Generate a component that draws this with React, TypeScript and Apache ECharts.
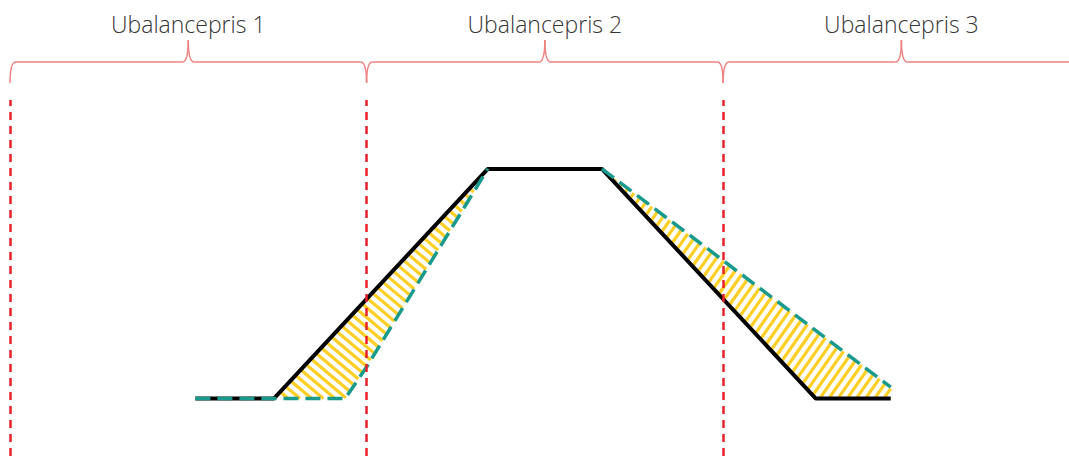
import { useEffect, useRef } from "react";
import * as echarts from "echarts";

// Period boundaries (x in "period" units) and labels
const periodStarts = [0, 1, 2];
const periodEnds = [1, 2, 3];
const periodLabels = ["Ubalancepris 1", "Ubalancepris 2", "Ubalancepris 3"];
const boundaries = [0, 1, 2];

// Solid black profile
const blackLine: number[][] = [
  [0.52, 20],
  [0.74, 20],
  [1.34, 100],
  [1.66, 100],
  [2.26, 20],
  [2.47, 20],
];
// Dashed teal profile (rising and falling parts)
const tealRise: number[][] = [
  [0.52, 20],
  [0.94, 20],
  [1.0, 31],
  [1.34, 100],
];
const tealFall: number[][] = [
  [1.66, 100],
  [2.47, 24],
];

// Hatched regions between the two profiles
const hatchPolys: number[][][] = [
  [blackLine[1], blackLine[2], ...tealRise.slice(1).reverse()],
  [blackLine[3], blackLine[4], blackLine[5], ...tealFall.slice().reverse()],
];
const hatchAngles = [40, -55];

function stripes(pts: number[][], angleDeg: number, period: number) {
  const a = (angleDeg * Math.PI) / 180;
  const d = [Math.cos(a), Math.sin(a)];
  const n = [-Math.sin(a), Math.cos(a)];
  const proj = pts.map((p) => p[0] * n[0] + p[1] * n[1]);
  const smin = Math.min(...proj);
  const smax = Math.max(...proj);
  const segs: number[][] = [];
  for (let s = Math.ceil(smin / period) * period; s <= smax; s += period) {
    const hits: number[][] = [];
    for (let i = 0; i < pts.length; i++) {
      const p = pts[i];
      const q = pts[(i + 1) % pts.length];
      const fa = proj[i] - s;
      const fb = proj[(i + 1) % pts.length] - s;
      if ((fa <= 0 && fb > 0) || (fa > 0 && fb <= 0)) {
        const t = fa / (fa - fb);
        hits.push([p[0] + (q[0] - p[0]) * t, p[1] + (q[1] - p[1]) * t]);
      }
    }
    hits.sort((u, v) => u[0] * d[0] + u[1] * d[1] - (v[0] * d[0] + v[1] * d[1]));
    for (let k = 0; k + 1 < hits.length; k += 2) {
      segs.push([hits[k][0], hits[k][1], hits[k + 1][0], hits[k + 1][1]]);
    }
  }
  return segs;
}

export default function App() {
  const ref = useRef<HTMLDivElement>(null);
  useEffect(() => {
    if (!ref.current) return;
    const chart = echarts.init(ref.current, undefined, { renderer: "svg" });
    const braceColor = "#EF8080";
    const braceY = 62;
    const braceEnd = 83;
    const braceTip = 40;
    const r = 6;
    chart.setOption({
      animation: false,
      grid: { left: 10, right: 0, top: 100, bottom: 0 },
      xAxis: { type: "value", min: 0, max: 2.97, show: false },
      yAxis: { type: "value", min: 0, max: 124, show: false },
      series: [
        {
          type: "custom",
          z: 1,
          silent: true,
          data: hatchPolys.map((_, i) => [i, 0]),
          renderItem: (params: any, api: any) => {
            const idx = params.dataIndex;
            const pts = hatchPolys[idx].map((p) => api.coord(p));
            const segs = stripes(pts, hatchAngles[idx], 7.5);
            return {
              type: "group",
              children: segs.map((s) => ({
                type: "line",
                shape: { x1: s[0], y1: s[1], x2: s[2], y2: s[3] },
                style: { stroke: "#FFCF26", lineWidth: 3.2 },
              })),
            };
          },
        },
        {
          type: "line",
          z: 2,
          data: blackLine,
          symbol: "none",
          lineStyle: { color: "#000000", width: 4 },
        },
        {
          type: "line",
          z: 3,
          data: tealRise,
          symbol: "none",
          lineStyle: { color: "#1A9A8C", width: 3.5, type: [15, 7] },
        },
        {
          type: "line",
          z: 3,
          data: tealFall,
          symbol: "none",
          lineStyle: { color: "#1A9A8C", width: 3.5, type: [15, 7] },
        },
        {
          type: "line",
          z: 4,
          data: [],
          markLine: {
            silent: true,
            symbol: "none",
            label: { show: false },
            lineStyle: { color: "#E8222A", width: 2.5, type: [8, 6] },
            data: boundaries.map((b) => ({ xAxis: b })),
          },
        },
        {
          type: "custom",
          z: 5,
          silent: true,
          clip: false,
          data: periodStarts.map((s, i) => [s, periodEnds[i]]),
          renderItem: (params: any, api: any) => {
            const x0 = api.coord([api.value(0), 0])[0];
            const x1 = api.coord([api.value(1), 0])[0];
            const xm = (x0 + x1) / 2;
            const st = { stroke: braceColor, lineWidth: 1.5, fill: "none" };
            return {
              type: "group",
              children: [
                {
                  type: "bezierCurve",
                  shape: { x1: x0, y1: braceEnd, cpx1: x0, cpy1: braceY, x2: x0 + r, y2: braceY },
                  style: st,
                },
                {
                  type: "line",
                  shape: { x1: x0 + r, y1: braceY, x2: xm - r, y2: braceY },
                  style: st,
                },
                {
                  type: "bezierCurve",
                  shape: { x1: xm - r, y1: braceY, cpx1: xm, cpy1: braceY, x2: xm, y2: braceTip },
                  style: st,
                },
                {
                  type: "bezierCurve",
                  shape: { x1: xm, y1: braceTip, cpx1: xm, cpy1: braceY, x2: xm + r, y2: braceY },
                  style: st,
                },
                {
                  type: "line",
                  shape: { x1: xm + r, y1: braceY, x2: x1 - r, y2: braceY },
                  style: st,
                },
                {
                  type: "bezierCurve",
                  shape: { x1: x1 - r, y1: braceY, cpx1: x1, cpy1: braceY, x2: x1, y2: braceEnd },
                  style: st,
                },
                {
                  type: "text",
                  x: xm,
                  y: 24,
                  style: {
                    text: periodLabels[params.dataIndex],
                    fill: "#363636",
                    fontSize: 23,
                    fontWeight: 300,
                    fontFamily: "Open Sans",
                    align: "center",
                    verticalAlign: "middle",
                  },
                },
              ],
            };
          },
        },
      ],
    });
    return () => chart.dispose();
  }, []);
  return (
    <div
      ref={ref}
      style={{ position: "fixed", left: 0, top: 0, width: 1069, height: 456, background: "#fff" }}
    />
  );
}
